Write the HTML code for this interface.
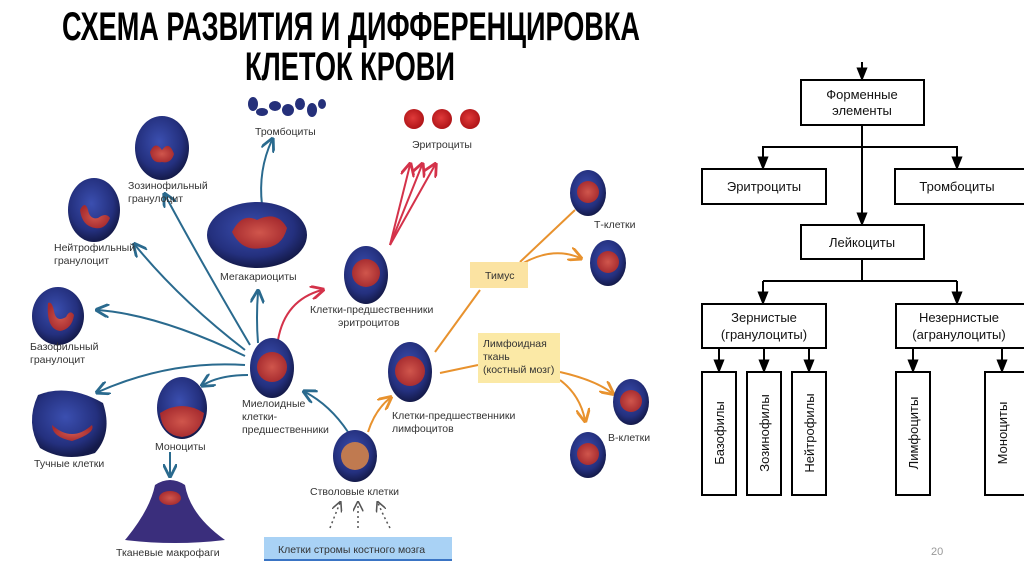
<!DOCTYPE html>
<html><head><meta charset="utf-8"><style>
html,body{margin:0;padding:0;background:#fff;width:1024px;height:576px;overflow:hidden}
svg{display:block}
.t{font-family:"Liberation Sans",sans-serif;font-size:10.5px;fill:#333}
.r{font-family:"Liberation Sans",sans-serif;font-size:13px;fill:#111}
</style></head><body>
<svg width="1024" height="576" viewBox="0 0 1024 576" xmlns="http://www.w3.org/2000/svg">
<defs>
<radialGradient id="cb" cx="45%" cy="40%" r="60%"><stop offset="0" stop-color="#3b4fb0"/><stop offset="0.7" stop-color="#24307e"/><stop offset="1" stop-color="#141a4a"/></radialGradient>
<radialGradient id="nr" cx="50%" cy="50%" r="55%"><stop offset="0" stop-color="#d0564c"/><stop offset="1" stop-color="#a52a2e"/></radialGradient>
<radialGradient id="er" cx="45%" cy="45%" r="55%"><stop offset="0" stop-color="#e03a3a"/><stop offset="1" stop-color="#b01518"/></radialGradient>
<marker id="ab" viewBox="0 0 10 10" refX="8" refY="5" markerWidth="7" markerHeight="7" orient="auto"><path d="M0,0 L10,5 L0,10" fill="none" stroke="#2a6a8e" stroke-width="2"/></marker>
<marker id="ar" viewBox="0 0 10 10" refX="8" refY="5" markerWidth="7" markerHeight="7" orient="auto"><path d="M0,0 L10,5 L0,10" fill="none" stroke="#d4324a" stroke-width="2"/></marker>
<marker id="ao" viewBox="0 0 10 10" refX="8" refY="5" markerWidth="7" markerHeight="7" orient="auto"><path d="M0,0 L10,5 L0,10" fill="none" stroke="#e8922e" stroke-width="2"/></marker>
<marker id="ak" viewBox="0 0 10 10" refX="9" refY="5" markerWidth="7" markerHeight="7" orient="auto"><path d="M0,1 L10,5 L0,9 Z" fill="#000"/></marker>
<marker id="ag" viewBox="0 0 10 10" refX="8" refY="5" markerWidth="7" markerHeight="7" orient="auto"><path d="M0,0 L10,5 L0,10" fill="none" stroke="#555" stroke-width="1.5"/></marker>
</defs>

<text x="62" y="40" textLength="578" lengthAdjust="spacingAndGlyphs" font-family="Liberation Sans,sans-serif" font-weight="bold" font-size="40" fill="#000">СХЕМА РАЗВИТИЯ И ДИФФЕРЕНЦИРОВКА</text>
<text x="245" y="80" textLength="210" lengthAdjust="spacingAndGlyphs" font-family="Liberation Sans,sans-serif" font-weight="bold" font-size="40" fill="#000">КЛЕТОК КРОВИ</text>

<g stroke="#2a6a8e" stroke-width="2" fill="none">
<path d="M262,205 Q258,170 272,140" marker-end="url(#ab)"/>
<path d="M258,343 Q256,318 258,292" marker-end="url(#ab)"/>
<path d="M250,345 Q200,260 165,195" marker-end="url(#ab)"/>
<path d="M245,350 Q180,300 135,245" marker-end="url(#ab)"/>
<path d="M245,356 Q160,315 98,310" marker-end="url(#ab)"/>
<path d="M245,365 Q170,360 98,392" marker-end="url(#ab)"/>
<path d="M248,375 Q220,375 203,385" marker-end="url(#ab)"/>
<path d="M348,432 Q330,405 305,392" marker-end="url(#ab)"/>
<path d="M170,452 L170,475" marker-end="url(#ab)"/>
</g>
<g stroke="#d4324a" stroke-width="2" fill="none">
<path d="M278,340 Q285,300 322,290" marker-end="url(#ar)"/>
<path d="M390,245 L410,165" marker-end="url(#ar)"/>
<path d="M390,245 L422,165" marker-end="url(#ar)"/>
<path d="M390,245 L435,165" marker-end="url(#ar)"/>
</g>
<g stroke="#e8922e" stroke-width="2" fill="none">
<path d="M368,432 Q375,410 390,398" marker-end="url(#ao)"/>
<path d="M435,352 L480,290"/>
<path d="M520,262 L575,210"/>
<path d="M515,268 Q550,245 580,258" marker-end="url(#ao)"/>
<path d="M440,373 L478,365"/>
<path d="M560,372 Q595,380 612,393" marker-end="url(#ao)"/>
<path d="M560,380 Q580,395 585,420" marker-end="url(#ao)"/>
</g>
<g stroke="#555" stroke-width="1.5" fill="none" stroke-dasharray="2,3">
<path d="M330,528 Q335,515 340,503" marker-end="url(#ag)"/>
<path d="M358,528 L358,503" marker-end="url(#ag)"/>
<path d="M390,528 Q383,515 378,503" marker-end="url(#ag)"/>
</g>

<g fill="#25307a">
<ellipse cx="253" cy="104" rx="5" ry="7"/><ellipse cx="262" cy="112" rx="6" ry="4"/>
<ellipse cx="275" cy="106" rx="6" ry="5"/><ellipse cx="288" cy="110" rx="6" ry="6"/>
<ellipse cx="300" cy="104" rx="5" ry="6"/><ellipse cx="312" cy="110" rx="5" ry="7"/><ellipse cx="322" cy="104" rx="4" ry="5"/>
</g>
<text class="t" x="255" y="135">Тромбоциты</text>
<circle cx="414" cy="119" r="10" fill="url(#er)"/><circle cx="442" cy="119" r="10" fill="url(#er)"/><circle cx="470" cy="119" r="10" fill="url(#er)"/>
<text class="t" x="412" y="148">Эритроциты</text>

<g>
<ellipse cx="162" cy="148" rx="27" ry="32" fill="url(#cb)"/><path d="M150,152 q5,-12 12,-2 q7,-10 12,4 q-3,10 -12,8 q-10,2 -12,-10z" fill="url(#nr)"/>
<ellipse cx="94" cy="210" rx="26" ry="32" fill="url(#cb)"/><path d="M80,210 q5,-10 8,0 q2,10 10,8 q8,-6 12,0 q-5,12 -15,10 q-13,-2 -15,-18z" fill="url(#nr)"/>
<ellipse cx="58" cy="316" rx="26" ry="29" fill="url(#cb)"/><path d="M48,303 q4,-2 6,8 q2,12 12,6 q4,-8 8,-2 q-2,14 -14,16 q-14,-2 -12,-28z" fill="url(#nr)"/>
<path d="M38,395 q30,-12 65,8 q10,30 -8,50 q-30,10 -55,-5 q-15,-25 -2,-53z" fill="url(#cb)"/><path d="M52,425 q20,18 40,0 q4,8 -20,16 q-20,-4 -20,-16z" fill="url(#nr)"/>
<ellipse cx="182" cy="408" rx="25" ry="31" fill="url(#cb)"/><path d="M160,413 q22,-14 44,0 q-3,22 -22,24 q-20,-2 -22,-24z" fill="url(#nr)"/>
<path d="M125,540 q25,-30 30,-55 q15,-10 30,0 q5,30 40,55 q-50,6 -100,0z" fill="#3a2e7c"/><ellipse cx="170" cy="498" rx="11" ry="7" fill="url(#nr)"/>
<ellipse cx="257" cy="235" rx="50" ry="33" fill="url(#cb)"/><path d="M232,232 q10,-20 25,-12 q20,-10 30,8 q-5,20 -25,20 q-20,4 -30,-16z" fill="url(#nr)"/>
<ellipse cx="366" cy="275" rx="22" ry="29" fill="url(#cb)"/><circle cx="366" cy="273" r="14" fill="url(#nr)"/>
<ellipse cx="272" cy="368" rx="22" ry="30" fill="url(#cb)"/><circle cx="272" cy="367" r="15" fill="url(#nr)"/>
<ellipse cx="410" cy="372" rx="22" ry="30" fill="url(#cb)"/><circle cx="410" cy="371" r="15" fill="url(#nr)"/>
<ellipse cx="355" cy="456" rx="22" ry="26" fill="url(#cb)"/><circle cx="355" cy="456" r="14" fill="#c07a50"/>
<ellipse cx="588" cy="193" rx="18" ry="23" fill="url(#cb)"/><circle cx="588" cy="192" r="11" fill="url(#nr)"/>
<ellipse cx="608" cy="263" rx="18" ry="23" fill="url(#cb)"/><circle cx="608" cy="262" r="11" fill="url(#nr)"/>
<ellipse cx="631" cy="402" rx="18" ry="23" fill="url(#cb)"/><circle cx="631" cy="401" r="11" fill="url(#nr)"/>
<ellipse cx="588" cy="455" rx="18" ry="23" fill="url(#cb)"/><circle cx="588" cy="454" r="11" fill="url(#nr)"/>
</g>

<text class="t" x="128" y="189">Зозинофильный</text><text class="t" x="128" y="202">гранулоцит</text>
<text class="t" x="54" y="251">Нейтрофильный</text><text class="t" x="54" y="264">гранулоцит</text>
<text class="t" x="30" y="350">Базофильный</text><text class="t" x="30" y="363">гранулоцит</text>
<text class="t" x="34" y="467">Тучные клетки</text>
<text class="t" x="155" y="450">Моноциты</text>
<text class="t" x="116" y="556">Тканевые макрофаги</text>
<text class="t" x="220" y="280">Мегакариоциты</text>
<text class="t" x="310" y="313">Клетки-предшественники</text><text class="t" x="338" y="326">эритроцитов</text>
<text class="t" x="242" y="407">Миелоидные</text><text class="t" x="242" y="420">клетки-</text><text class="t" x="242" y="433">предшественники</text>
<text class="t" x="392" y="419">Клетки-предшественники</text><text class="t" x="392" y="432">лимфоцитов</text>
<text class="t" x="310" y="495">Стволовые клетки</text>
<text class="t" x="594" y="228">Т-клетки</text>
<text class="t" x="608" y="441">В-клетки</text>

<rect x="470" y="262" width="58" height="26" fill="#fbe3a2"/><text class="t" x="485" y="279">Тимус</text>
<rect x="478" y="333" width="82" height="50" fill="#fbe9a6"/>
<text class="t" x="483" y="347">Лимфоидная</text><text class="t" x="483" y="360">ткань</text><text class="t" x="483" y="373">(костный мозг)</text>
<rect x="264" y="537" width="188" height="22" fill="#a9d2f5"/><line x1="264" y1="560" x2="452" y2="560" stroke="#3a74c4" stroke-width="2"/>
<text class="t" x="278" y="553">Клетки стромы костного мозга</text>

<g stroke="#000" stroke-width="2" fill="none">
<line x1="862" y1="62" x2="862" y2="80" marker-end="url(#ak)"/>
<line x1="862" y1="125" x2="862" y2="225" marker-end="url(#ak)"/>
<polyline points="763,168 763,147 957,147 957,168"/>
<line x1="763" y1="160" x2="763" y2="169" marker-end="url(#ak)"/>
<line x1="957" y1="160" x2="957" y2="169" marker-end="url(#ak)"/>
<polyline points="862,259 862,281 763,281 957,281"/>
<line x1="763" y1="281" x2="763" y2="304" marker-end="url(#ak)"/>
<line x1="957" y1="281" x2="957" y2="304" marker-end="url(#ak)"/>
<line x1="719" y1="348" x2="719" y2="372" marker-end="url(#ak)"/>
<line x1="764" y1="348" x2="764" y2="372" marker-end="url(#ak)"/>
<line x1="809" y1="348" x2="809" y2="372" marker-end="url(#ak)"/>
<line x1="913" y1="348" x2="913" y2="372" marker-end="url(#ak)"/>
<line x1="1002" y1="348" x2="1002" y2="372" marker-end="url(#ak)"/>
<rect x="801" y="80" width="123" height="45" fill="#fff"/>
<rect x="702" y="169" width="124" height="35" fill="#fff"/>
<rect x="895" y="169" width="135" height="35" fill="#fff"/>
<rect x="801" y="225" width="123" height="34" fill="#fff"/>
<rect x="702" y="304" width="124" height="44" fill="#fff"/>
<rect x="896" y="304" width="135" height="44" fill="#fff"/>
<rect x="702" y="372" width="34" height="123" fill="#fff"/>
<rect x="747" y="372" width="34" height="123" fill="#fff"/>
<rect x="792" y="372" width="34" height="123" fill="#fff"/>
<rect x="896" y="372" width="34" height="123" fill="#fff"/>
<rect x="985" y="372" width="40" height="123" fill="#fff"/>
</g>
<g class="r" text-anchor="middle">
<text x="862" y="99">Форменные</text><text x="862" y="115">элементы</text>
<text x="764" y="191">Эритроциты</text>
<text x="957" y="191">Тромбоциты</text>
<text x="862" y="247">Лейкоциты</text>
<text x="764" y="322">Зернистые</text><text x="764" y="339">(гранулоциты)</text>
<text x="959" y="322">Незернистые</text><text x="959" y="339">(агранулоциты)</text>
<text transform="translate(724,433) rotate(-90)">Базофилы</text>
<text transform="translate(769,433) rotate(-90)">Зозинофилы</text>
<text transform="translate(814,433) rotate(-90)">Нейтрофилы</text>
<text transform="translate(918,433) rotate(-90)">Лимфоциты</text>
<text transform="translate(1007,433) rotate(-90)">Моноциты</text>
</g>
<text x="931" y="555" font-family="Liberation Sans,sans-serif" font-size="11" fill="#999">20</text>
</svg>
</body></html>
